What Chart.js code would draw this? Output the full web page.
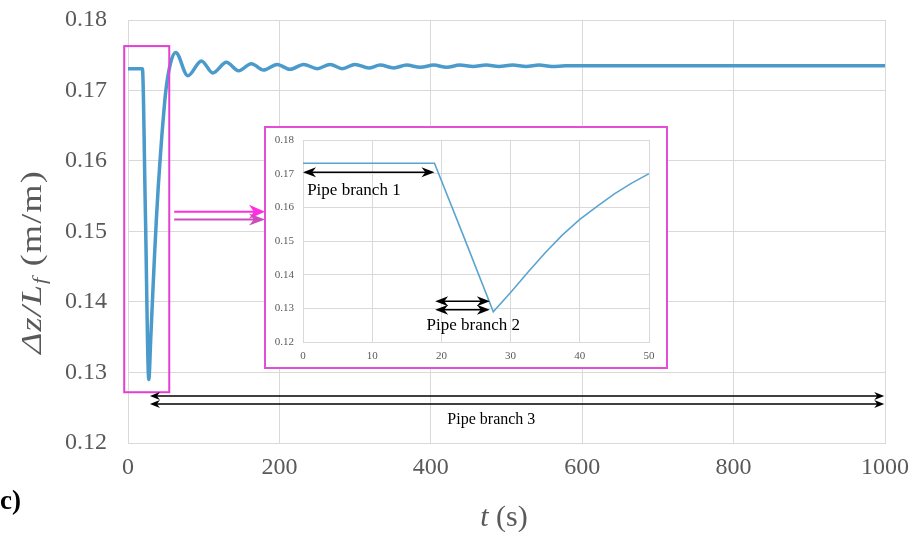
<!DOCTYPE html>
<html>
<head>
<meta charset="utf-8">
<title>Water level ratio over time</title>
<script src="https://cdn.jsdelivr.net/npm/chart.js@4.4.1/dist/chart.umd.min.js"></script>
<style>
  body { margin: 0; background: #fff; }
  #wrap { position: relative; width: 919px; height: 533px; overflow: hidden; font-family: "Liberation Serif", serif; }
  #mainChart { position: absolute; left: 0; top: 0; }
  #insetBox { position: absolute; left: 264px; top: 126px; width: 400px; height: 239px; border: 2px solid #e24fd6; background: #fff; }
  #insetChart { display: block; }
  .ytitle { position: absolute; left: 32px; top: 262px; transform: translate(-50%, -50%) rotate(-90deg) scaleX(1.2); white-space: nowrap; font-size: 30px; letter-spacing: 1px; color: #595959; }
  .ytitle sub { font-size: 19px; vertical-align: -5px; }
  .xtitle { position: absolute; left: 504px; top: 516px; transform: translate(-50%, -50%); white-space: nowrap; font-size: 30px; color: #595959; }
  .panel { position: absolute; left: 0; top: 500px; transform: translateY(-50%); font-size: 27px; font-weight: bold; color: #000; }
</style>
</head>
<body>
<div id="wrap">
  <canvas id="mainChart" width="919" height="533"></canvas>
  <div id="insetBox"><canvas id="insetChart" width="400" height="239"></canvas></div>
  <div class="ytitle"><i>&Delta;z/L<sub>f</sub></i> (m/m)</div>
  <div class="xtitle"><i>t</i> (s)</div>
  <div class="panel">c)</div>
</div>
<script>
// time (s) and water level ratio Δz/Lf (m/m)
const timeS = [0, 19, 23, 27.5, 30, 32.5, 35, 37.5, 40, 42.5, 45, 47.5, 50, 56, 63,
  79, 97, 112, 130, 146, 163, 179, 197, 214, 232, 250, 267, 283, 300, 318, 333,
  351, 368, 386, 404, 421, 438, 456, 473, 490, 508, 526, 543, 560, 578, 600, 1000];
const dzRatio = [0.1731, 0.1731, 0.1525, 0.1290, 0.1347, 0.1407, 0.1465, 0.1518, 0.1564, 0.1603, 0.1640, 0.1672, 0.1700, 0.1738, 0.1754,
  0.1721, 0.1742, 0.1725, 0.1740, 0.1728, 0.1738, 0.1729, 0.1737, 0.1730, 0.1737, 0.1731, 0.1737, 0.1731, 0.1737, 0.1732, 0.1736,
  0.1732, 0.1736, 0.1733, 0.1736, 0.1733, 0.1736, 0.1734, 0.1736, 0.1734, 0.1736, 0.1734, 0.1736, 0.1734, 0.1735, 0.1735, 0.1735];

const mainTimeTicks = [0, 200, 400, 600, 800, 1000];
const insetTimeTicks = [0, 10, 20, 30, 40, 50];
const ratioTicks = [0.12, 0.13, 0.14, 0.15, 0.16, 0.17, 0.18];

const points = timeS.map((t, i) => ({ x: t, y: dzRatio[i] }));

const GRID = '#d9d9d9';
const TICK = '#595959';
const MAGENTA = '#e33fd5';

// arrow with stealth heads, one or both ends
function arrow(ctx, x1, x2, y, head, half, both) {
  ctx.beginPath();
  ctx.moveTo(both ? x1 + head * 0.5 : x1, y);
  ctx.lineTo(x2 - head * 0.5, y);
  ctx.stroke();
  const tip = (xt, dir) => {
    ctx.beginPath();
    ctx.moveTo(xt, y);
    ctx.lineTo(xt - dir * head, y - half);
    ctx.lineTo(xt - dir * head * 0.7, y);
    ctx.lineTo(xt - dir * head, y + half);
    ctx.closePath();
    ctx.fill();
  };
  tip(x2, 1);
  if (both) tip(x1, -1);
}

const mainNotes = {
  id: 'mainNotes',
  afterDatasetsDraw(chart) {
    const { ctx, scales: { x, y } } = chart;
    ctx.save();
    // box around the first 50 s
    ctx.strokeStyle = MAGENTA;
    ctx.lineWidth = 2;
    const bx1 = x.getPixelForValue(-5), bx2 = x.getPixelForValue(54.5);
    const by1 = y.getPixelForValue(0.1763), by2 = y.getPixelForValue(0.1272);
    ctx.strokeRect(bx1, by1, bx2 - bx1, by2 - by1);

    // pointers toward the close-up
    ctx.fillStyle = '#ff2ee0';
    ctx.strokeStyle = '#ff2ee0';
    ctx.lineWidth = 2;
    arrow(ctx, x.getPixelForValue(61), x.getPixelForValue(181), y.getPixelForValue(0.1528), 16, 7, false);
    ctx.fillStyle = '#cc4cbf';
    ctx.strokeStyle = '#cc4cbf';
    arrow(ctx, x.getPixelForValue(61), x.getPixelForValue(181), y.getPixelForValue(0.1517), 16, 6, false);

    // pipe branch 3 span
    ctx.fillStyle = '#000';
    ctx.strokeStyle = '#000';
    ctx.lineWidth = 1.3;
    const a1 = x.getPixelForValue(29), a2 = x.getPixelForValue(999);
    arrow(ctx, a1, a2, y.getPixelForValue(0.12667), 10, 4, true);
    arrow(ctx, a1, a2, y.getPixelForValue(0.12553), 10, 4, true);
    ctx.font = '16px "Liberation Serif"';
    ctx.textAlign = 'center';
    ctx.textBaseline = 'middle';
    ctx.fillText('Pipe branch 3', x.getPixelForValue(480), y.getPixelForValue(0.12326));
    ctx.restore();
  }
};

const insetNotes = {
  id: 'insetNotes',
  afterDatasetsDraw(chart) {
    const { ctx, scales: { x, y } } = chart;
    ctx.save();
    ctx.fillStyle = '#000';
    ctx.strokeStyle = '#000';
    ctx.lineWidth = 1.5;
    arrow(ctx, x.getPixelForValue(0), x.getPixelForValue(19), y.getPixelForValue(0.1704), 13, 5, true);
    arrow(ctx, x.getPixelForValue(19.1), x.getPixelForValue(27), y.getPixelForValue(0.1321), 13, 5, true);
    arrow(ctx, x.getPixelForValue(19.1), x.getPixelForValue(27), y.getPixelForValue(0.1296), 13, 5, true);
    ctx.font = '17px "Liberation Serif"';
    ctx.textBaseline = 'middle';
    ctx.textAlign = 'left';
    ctx.fillText('Pipe branch 1', x.getPixelForValue(0.6), y.getPixelForValue(0.1651));
    ctx.textAlign = 'center';
    ctx.fillText('Pipe branch 2', x.getPixelForValue(24.6), y.getPixelForValue(0.1248));
    ctx.restore();
  }
};

function axes(xTicks, xMin, xMax, yWidth, xHeight, fontSize, yPad, xPad) {
  const font = { family: 'Liberation Serif', size: fontSize };
  return {
    x: {
      type: 'linear', min: xMin, max: xMax,
      afterBuildTicks: (s) => { s.ticks = xTicks.map((v) => ({ value: v })); },
      afterFit: (s) => { s.height = xHeight; },
      grid: { color: GRID, drawTicks: false },
      border: { color: GRID },
      ticks: { padding: xPad, color: TICK, font, maxRotation: 0, callback: (v) => String(v) }
    },
    y: {
      type: 'linear', min: 0.12, max: 0.18,
      afterBuildTicks: (s) => { s.ticks = ratioTicks.map((v) => ({ value: v })); },
      // plot edges come from layout padding only
      afterFit: (s) => { s.width = yWidth; s.paddingTop = 0; s.paddingBottom = 0; },
      grid: { color: GRID, drawTicks: false },
      border: { color: GRID },
      ticks: { padding: yPad, color: TICK, font, callback: (v) => v.toFixed(2) }
    }
  };
}

new Chart(document.getElementById('mainChart'), {
  type: 'line',
  data: {
    datasets: [{
      data: points,
      borderColor: '#4a9acb',
      borderWidth: 3.5,
      pointRadius: 0,
      cubicInterpolationMode: 'monotone',
      fill: false
    }]
  },
  options: {
    responsive: false,
    animation: false,
    events: [],
    layout: { padding: { top: 20, right: 34, left: 0, bottom: 0 } },
    plugins: { legend: { display: false }, tooltip: { enabled: false } },
    scales: axes(mainTimeTicks, 0, 1000, 128, 90, 24, 21, 10)
  },
  plugins: [mainNotes]
});

new Chart(document.getElementById('insetChart'), {
  type: 'line',
  data: {
    datasets: [{
      data: points,
      borderColor: '#5ba4d0',
      borderWidth: 1.6,
      pointRadius: 0,
      tension: 0,
      fill: false
    }]
  },
  options: {
    responsive: false,
    animation: false,
    events: [],
    layout: { padding: { top: 12, right: 17, left: 0, bottom: 0 } },
    plugins: { legend: { display: false }, tooltip: { enabled: false } },
    scales: axes(insetTimeTicks, 0, 50, 37, 25, 11, 9, 8)
  },
  plugins: [insetNotes]
});
</script>
</body>
</html>
